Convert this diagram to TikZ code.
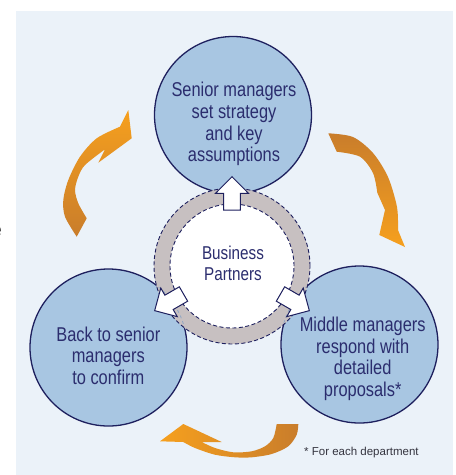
\documentclass[tikz,border=0pt]{standalone}
\usepackage{fontspec}
\setmainfont{Liberation Sans}[FakeStretch=0.82]
\newfontfamily\plainsans{Liberation Sans}
\usetikzlibrary{calc}
\definecolor{panel}{HTML}{EBF2F9}
\definecolor{cfill}{HTML}{A8C6E2}
\definecolor{cline}{HTML}{1E205E}
\definecolor{ctext}{HTML}{2B2D6E}
\definecolor{ringgray}{HTML}{C7C0C1}
\definecolor{obright}{HTML}{F6A01E}
\definecolor{odark}{HTML}{C97D2B}
\definecolor{faintline}{HTML}{8FA6C4}
\definecolor{foottext}{HTML}{34343F}
\begin{document}
\begin{tikzpicture}[x=1pt,y=-1pt,
  stage/.style={circle, draw=cline, line width=1.3pt, fill=cfill, minimum size=157pt, inner sep=0pt},
  ctxt/.style={anchor=north, align=center, inner sep=0pt, text=ctext, font=\fontsize{20}{21.7}\selectfont},
  dashring/.style={draw=cline, line width=0.9pt, dash pattern=on 4pt off 2.5pt},
  barrow/.style={draw=cline, line width=1pt, fill=white, line join=miter},
]
\useasboundingbox (0,0) rectangle (456,475);
\fill[panel] (16,11) rectangle (453,475);

% fragment of a letter at the left edge
\begin{scope}
  \clip (0,0) rectangle (3,475);
  \node[anchor=base east, inner sep=0pt, text=black!75, font=\plainsans\fontsize{19}{20}\selectfont] (frag) at (2.2,236) {e};
\end{scope}

% stage circles
\node[stage] (senior) at (233,115) {};
\node[stage] (back) at (108.5,347.5) {};
\node[stage] (middle) at (359.5,344.5) {};

% central ring
\node[circle, fill=ringgray, dashring, minimum size=156pt, inner sep=0pt] (ring) at (232,266) {};
\begin{scope}
  \clip (ring.center) circle[radius=77pt];
  \draw[faintline, line width=0.8pt, dash pattern=on 3pt off 3pt] (back.center) circle[radius=78.5pt];
  \draw[faintline, line width=0.8pt, dash pattern=on 3pt off 3pt] (middle.center) circle[radius=78.5pt];
\end{scope}
\node[circle, fill=white, dashring, minimum size=124pt, inner sep=0pt] (core) at (ring.center) {};

% white block arrows out of the ring
\foreach \a in {-90,150,30}{
  \draw[barrow]
    ($(ring.center)+(\a:56)+(\a+90:8.3)$) --
    ($(ring.center)+(\a:72.7)+(\a+90:8.3)$) --
    ($(ring.center)+(\a:72.7)+(\a+90:16.5)$) --
    ($(ring.center)+(\a:89.3)$) --
    ($(ring.center)+(\a:72.7)+(\a-90:16.5)$) --
    ($(ring.center)+(\a:72.7)+(\a-90:8.3)$) --
    ($(ring.center)+(\a:56)+(\a-90:8.3)$) -- cycle;
}

% orange curved arrows
\shade[top color=obright, bottom color=odark]
  (76.7,236.7) -- plot[smooth] coordinates {(76.7,236.7) (65,216.7) (63.3,200) (68.3,180) (80,156.7) (96.7,138.3) (120,126.7)}
  -- (128.3,110) -- (131.7,138.3) -- (98.3,162.7) -- (105,149.3)
  -- plot[smooth] coordinates {(105,149.3) (85,165) (78.3,176.7) (75,190) (78.3,203.3) (86.7,218.3)} -- cycle;

\shade[top color=odark, bottom color=obright]
  (328.3,133.3) -- plot[smooth] coordinates {(328.3,133.3) (353,137) (373,153) (388,177) (397,207) (398,230)}
  -- (405,247) -- (379.3,235) -- (385,210) -- (377.3,192.7)
  -- plot[smooth] coordinates {(377.3,192.7) (373,173) (360,156.7) (336.7,151.7)} -- cycle;

\shade[left color=obright, right color=odark]
  (276.7,424) -- (298.3,424)
  -- plot[smooth] coordinates {(298.3,424) (296.7,434.7) (288.3,446.3) (271.7,454) (251.7,457.3) (235,457.3) (215,454.7) (195,448) (183.3,442)}
  -- (160,441.3) -- (183.3,424) -- (221.7,442) -- (201.7,442)
  -- plot[smooth] coordinates {(201.7,442) (215,448) (233.3,452.3) (251.7,451.3) (265,446.3) (273.3,438) (276.7,424)} -- cycle;

% texts
\node[ctxt] (tsenior) at (234,82) {Senior managers\\set strategy\\and key\\assumptions};
\node[ctxt] (tback) at (108.3,326.5) {Back to senior\\managers\\to confirm};
\node[ctxt] (tmiddle) at (362.7,316.7) {Middle managers\\respond with\\detailed\\proposals*};
\node[ctxt, font=\fontsize{18.6}{20.7}\selectfont] (tcore) at (233,246) {Business\\Partners};
\node[anchor=base west, inner sep=0pt, text=foottext, font=\plainsans\fontsize{11.5}{13}\selectfont] (foot) at (304,455) {* For each department};
\end{tikzpicture}
\end{document}
